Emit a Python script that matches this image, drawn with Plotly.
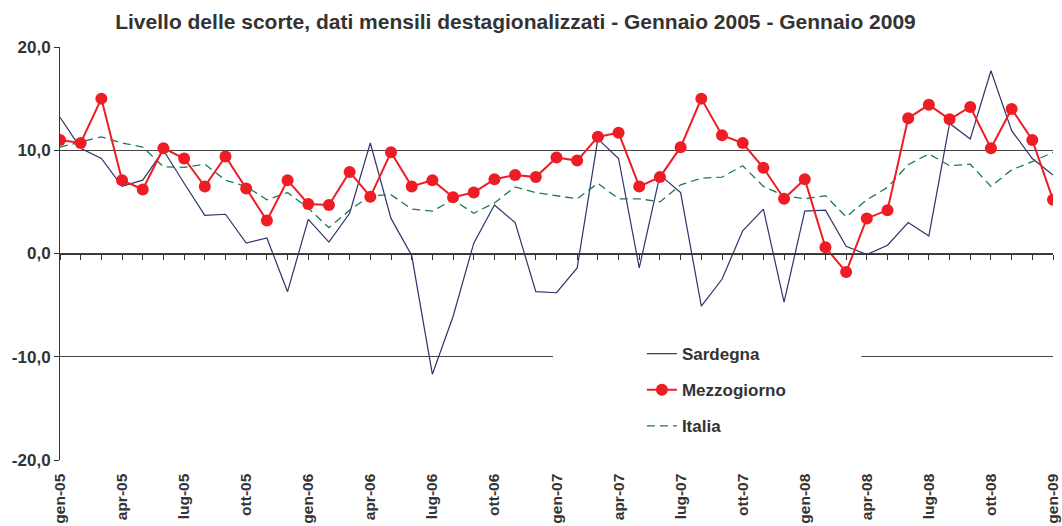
import plotly.graph_objects as go

tick_labels = ["gen-05", "apr-05", "lug-05", "ott-05", "gen-06", "apr-06", "lug-06", "ott-06",
               "gen-07", "apr-07", "lug-07", "ott-07", "gen-08", "apr-08", "lug-08", "ott-08", "gen-09"]

sardegna = [13.2, 10.2, 9.2, 6.5, 7.1, 10.0, 6.8, 3.7, 3.8, 1.0, 1.5, -3.7, 3.3, 1.1, 3.9, 10.7, 3.4,
            -0.2, -11.7, -6.1, 1.0, 4.7, 3.0, -3.7, -3.8, -1.4, 11.1, 9.2, -1.4, 7.6, 5.9, -5.1, -2.5,
            2.2, 4.3, -4.7, 4.1, 4.2, 0.7, -0.1, 0.8, 3.0, 1.7, 12.6, 11.1, 17.7, 11.9, 9.2, 7.6]
mezzogiorno = [11.0, 10.7, 15.0, 7.1, 6.2, 10.2, 9.2, 6.5, 9.4, 6.3, 3.2, 7.1, 4.8, 4.7, 7.9, 5.5, 9.8,
               6.5, 7.1, 5.45, 5.9, 7.2, 7.6, 7.4, 9.3, 9.0, 11.3, 11.7, 6.5, 7.4, 10.3, 15.0, 11.45,
               10.7, 8.3, 5.3, 7.2, 0.6, -1.8, 3.4, 4.2, 13.1, 14.4, 13.0, 14.2, 10.2, 14.0, 11.0, 5.2]
italia = [10.3, 10.8, 11.3, 10.7, 10.3, 8.4, 8.35, 8.65, 7.1, 6.5, 5.2, 5.9, 4.4, 2.5, 4.2, 5.6, 5.7,
          4.3, 4.1, 5.2, 3.9, 4.9, 6.45, 5.9, 5.6, 5.3, 6.8, 5.3, 5.3, 5.0, 6.65, 7.3, 7.4, 8.5, 6.5,
          5.6, 5.3, 5.6, 3.55, 5.2, 6.4, 8.6, 9.65, 8.5, 8.65, 6.5, 8.1, 8.9, 9.8]
y_ticks = [-20, -10, 0, 10, 20]
y_tick_labels = ["-20,0", "-10,0", "0,0", "10,0", "20,0"]

x = list(range(len(sardegna)))
FONT = "Liberation Sans, Arial, sans-serif"
TXT = "#333333"

fig = go.Figure()
fig.add_trace(go.Scatter(x=x, y=sardegna, name="Sardegna", mode="lines", legendgroup="a", legendrank=1,
                         line=dict(color="#30336b", width=1.2)))
fig.add_trace(go.Scatter(x=x, y=italia, name="Italia", mode="lines", legendgroup="c", legendrank=3,
                         line=dict(color="#1b7a52", width=1.3, dash="8px,5px")))
fig.add_trace(go.Scatter(x=x, y=mezzogiorno, name="Mezzogiorno", mode="lines+markers", legendgroup="b",
                         legendrank=2,
                         line=dict(color="#ee1c25", width=2),
                         marker=dict(color="#ee1c25", size=12)))

# white strip breaking the -10 gridline behind the legend (no data in this strip)
fig.add_shape(type="rect", xref="paper", yref="paper", x0=0.4965, x1=0.807, y0=0.238, y1=0.262,
              fillcolor="white", line=dict(width=0), layer="above")

fig.update_layout(
    width=1062, height=526,
    template="none",
    paper_bgcolor="white", plot_bgcolor="white",
    margin=dict(l=60, r=9, t=47, b=66, autoexpand=False),
    font=dict(family=FONT, color=TXT),
    title=dict(text="Livello delle scorte, dati mensili destagionalizzati - Gennaio 2005 - Gennaio 2009",
               x=0.4854, xref="container", xanchor="center",
               y=1 - 22 / 526, yref="container", yanchor="middle",
               font=dict(size=21, color=TXT, family=FONT, weight="bold")),
    showlegend=True,
    legend=dict(x=0.586, y=0.30, xanchor="left", yanchor="top",
                bgcolor="rgba(255,255,255,0)", borderwidth=0,
                traceorder="grouped", tracegroupgap=11,
                font=dict(size=17, color=TXT, family=FONT, weight="bold")),
    xaxis=dict(range=[0, len(x) - 1], anchor="free", position=0.5,
               tickmode="array", tickvals=[3 * i for i in range(len(tick_labels))], ticktext=tick_labels,
               tickangle=-90, ticks="outside", ticklen=5, tickcolor="#333333", tickwidth=1,
               minor=dict(tickmode="array", tickvals=x, ticks="outside", ticklen=5,
                          tickcolor="#333333", tickwidth=1, showgrid=False),
               ticklabelstandoff=208,
               showline=True, linecolor="#333333", linewidth=1,
               showgrid=False, zeroline=False, automargin=False,
               tickfont=dict(size=15.5, color=TXT, family=FONT, weight="bold"), fixedrange=True),
    yaxis=dict(range=[-20, 20], tickmode="array", tickvals=y_ticks, ticktext=y_tick_labels,
               ticks="outside", ticklen=5, tickcolor="#333333",
               showline=True, linecolor="#333333", linewidth=1,
               showgrid=True, gridcolor="#444444", gridwidth=1, zeroline=False, automargin=False,
               tickfont=dict(size=17, color=TXT, family=FONT, weight="bold"), fixedrange=True),
)

fig.write_html("out.html", config={"displayModeBar": False},
               post_script="document.body.style.margin='0';document.body.style.overflow='hidden';")
